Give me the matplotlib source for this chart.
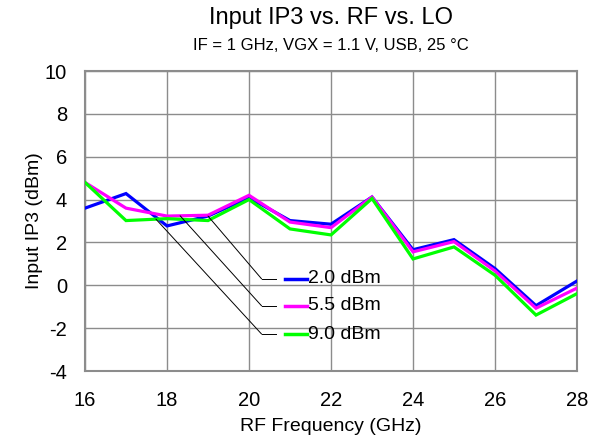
import matplotlib
matplotlib.use("Agg")
import matplotlib.pyplot as plt

plt.rcParams['font.family'] = ['Liberation Sans', 'DejaVu Sans']
plt.rcParams['axes.unicode_minus'] = False

rf_ghz = [16, 17, 18, 19, 20, 21, 22, 23, 24, 25, 26, 27, 28]
iip3_lo_2p0 = [3.60, 4.28, 2.77, 3.23, 4.09, 3.02, 2.85, 4.12, 1.66, 2.13, 0.78, -0.95, 0.20]
iip3_lo_5p5 = [4.80, 3.60, 3.23, 3.27, 4.20, 2.95, 2.69, 4.12, 1.56, 2.04, 0.67, -1.07, -0.13]
iip3_lo_9p0 = [4.80, 3.02, 3.11, 3.02, 4.00, 2.63, 2.35, 4.05, 1.23, 1.79, 0.47, -1.39, -0.39]
series_labels = ["2.0 dBm", "5.5 dBm", "9.0 dBm"]
series_colors = ["#0000FF", "#FF00FF", "#00FF00"]
x_ticks = [16, 18, 20, 22, 24, 26, 28]
y_ticks = [-4, -2, 0, 2, 4, 6, 8, 10]

fig = plt.figure(figsize=(5.96, 4.40), dpi=100)
ax = fig.add_axes([85/596, 1 - 371/440, 492/596, 300/440])

series = [iip3_lo_2p0, iip3_lo_5p5, iip3_lo_9p0]
for vals, col in zip(series, series_colors):
    ax.plot(rf_ghz, vals, color=col, lw=2.3, solid_joinstyle='miter', zorder=3)

ax.set_xlim(16, 28)
ax.set_ylim(-4, 10)
ax.set_xticks(x_ticks)
ax.set_yticks(y_ticks)
ax.tick_params(length=0, labelsize=14.5)
ax.tick_params(axis='x', pad=14.5)
ax.tick_params(axis='y', pad=13)
ax.grid(True, color='#8c8c8c', lw=1.0)
for s in ax.spines.values():
    s.set_color('#8c8c8c')
    s.set_linewidth(1.5)

ax.set_xlabel("RF Frequency (GHz)", fontsize=14, labelpad=6)
ax.set_ylabel("Input IP3 (dBm)", fontsize=14, labelpad=1)

fig.text(331/596, 1 - 18/440, "Input IP3 vs. RF vs. LO", ha='center', va='center', fontsize=17)
fig.text(331/596, 1 - 46/440, "IF = 1 GHz, VGX = 1.1 V, USB, 25 \u00b0C", ha='center', va='center', fontsize=12)

# custom legend with leader lines
row_y = [0.307, 0.217, 0.123]
anchor_x = [19.0, 18.32, 17.73]
anchor_idx = [3, 2, 1]
for i, (lab, col, vals) in enumerate(zip(series_labels, series_colors, series)):
    ax_x = anchor_x[i]
    j = anchor_idx[i]
    if ax_x > rf_ghz[j]:
        t = (ax_x - rf_ghz[j]) / (rf_ghz[j + 1] - rf_ghz[j])
        ay = vals[j] + t * (vals[j + 1] - vals[j])
    else:
        ay = vals[j]
    ax.annotate("", xy=(ax_x, ay), xycoords='data',
                xytext=(0.359, row_y[i]), textcoords='axes fraction',
                arrowprops=dict(arrowstyle='-', color='black', lw=0.7,
                                shrinkA=0, shrinkB=0), zorder=4)
    ax.plot([0.359, 0.388], [row_y[i], row_y[i]], transform=ax.transAxes,
            color='black', lw=0.7, zorder=4)
    ax.plot([0.407, 0.451], [row_y[i], row_y[i]], transform=ax.transAxes,
            color=col, lw=2.5, zorder=4)
    ax.text(0.454, row_y[i], lab, transform=ax.transAxes, ha='left', va='center',
            fontsize=14, zorder=4)

fig.savefig("out.png", dpi=100)
